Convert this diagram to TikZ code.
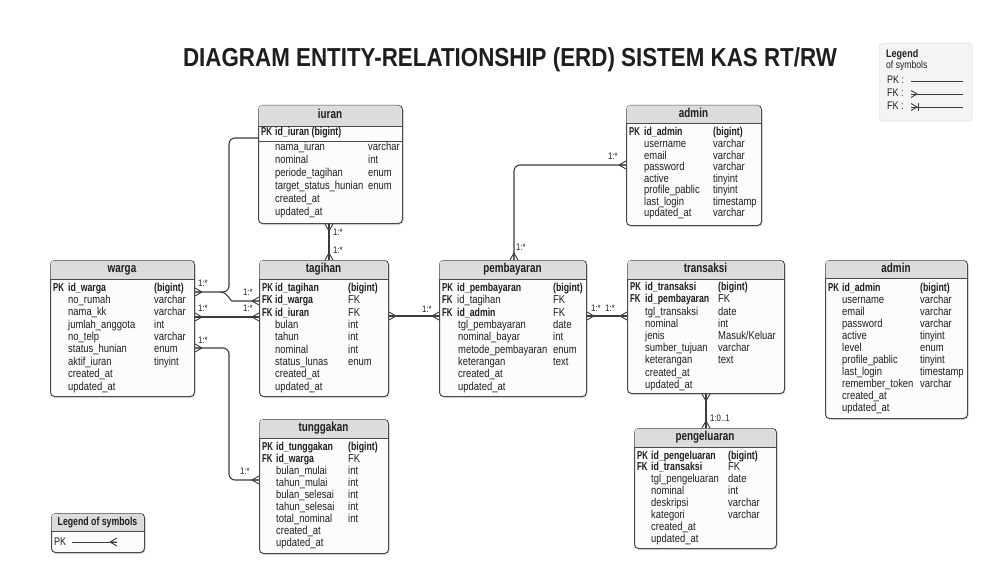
\documentclass[tikz,border=0pt]{standalone}
\usepackage{fontspec}
\setmainfont{Liberation Sans}
\newfontfamily\cf[FakeStretch=0.82]{Liberation Sans}
\newfontfamily\cfb[FakeStretch=0.76]{Liberation Sans}
\newfontfamily\cfk[FakeStretch=0.68]{Liberation Sans}
\newfontfamily\cft[FakeStretch=0.86]{Liberation Sans}
\usetikzlibrary{calc,shadows}
\definecolor{ebord}{HTML}{4A4A4A}
\definecolor{ehdr}{HTML}{DCDCDC}
\definecolor{ebody}{HTML}{FCFCFC}
\definecolor{etxt}{HTML}{1E1E1E}
\definecolor{elnk}{HTML}{3C3C3C}
\definecolor{lgfill}{HTML}{F4F4F4}
\definecolor{lgbord}{HTML}{DADADA}
\tikzset{
 ebox/.style={draw=ebord, line width=1pt, fill=ebody, rounded corners=4pt, inner sep=0pt,
   drop shadow={shadow xshift=1pt, shadow yshift=-1.5pt, opacity=0.25}},
 etitle/.style={font=\cfb\bfseries\fontsize{13}{15}\selectfont, text=etxt, inner sep=0pt, text height=9pt, text depth=2.5pt},
 ftxt/.style={anchor=west, inner sep=0pt, text=etxt, font=\cf\fontsize{11.5}{13}\selectfont, text height=8pt, text depth=2pt},
 ktxt/.style={ftxt, font=\cfb\bfseries\fontsize{11.5}{13}\selectfont},
 kkey/.style={ftxt, font=\cfk\bfseries\fontsize{11.5}{13}\selectfont},
 conn/.style={draw=elnk, line width=1.1pt, rounded corners=6pt},
 crow/.style={draw=elnk, line width=0.9pt},
 lbl/.style={inner sep=0pt, text=etxt, font=\cf\fontsize{9.5}{10}\selectfont},
}
\newcommand\entity[7]{%
 \node[ebox, minimum width=#4pt, minimum height=#5pt, anchor=north west] (#1) at (#2,#3) {};
 \fill[ehdr, rounded corners=3.5pt] (#2+0.5,#3+#7) -- (#2+0.5,#3+0.5) -- (#2+#4-0.5,#3+0.5) -- (#2+#4-0.5,#3+#7);
 \draw[ebord, line width=0.8pt] (#2,#3+#7) -- (#2+#4,#3+#7);
 \node[etitle] (#1-t) at (#2+#4/2,#3+#7/2) {#6};
}
\newcommand\krow[8]{%
 \node[kkey] (#1) at (#2,#5) {#6};
 \node[ktxt] (#1-f) at (#3,#5) {#7};
 \node[ftxt] (#1-t) at (#4,#5) {#8};}
\newcommand\rows[6]{%
 \foreach \fd/\ty [count=\i] in {#6} {
  \node[ftxt] (#1-f\i) at (#2, {#4+(\i-1)*#5}) {\fd};
  \node[ftxt] (#1-y\i) at (#3, {#4+(\i-1)*#5}) {\ty};
 }}
\newcommand\crowft[2]{%
 \begin{scope}[shift={(#1)}, rotate=#2]
  \draw[crow] (7,0) -- (0,4) (7,0) -- (0,-4) (7,0) -- (0,0);
 \end{scope}}
\newcommand\MK{Masuk/Keluar}
\newcommand\bigi{{\cfb\bfseries (bigint)}}
\begin{document}
\begin{tikzpicture}[x=1pt, y=-1pt]
\path[use as bounding box, fill=white] (0,0) rectangle (1002,583);

\node[font=\cft\bfseries\fontsize{26}{30}\selectfont, text=etxt] (title) at (510,60) {DIAGRAM ENTITY-RELATIONSHIP (ERD) SISTEM KAS RT/RW};

% legend top right
\node[draw=lgbord, fill=lgfill, rounded corners=4pt, minimum width=93pt, minimum height=78pt, anchor=north west, inner sep=0pt] (leg1) at (879,43) {};
\node[ftxt, font=\cf\bfseries\fontsize{11}{12}\selectfont] (leg1-a) at (886,55) {Legend};
\node[ftxt, font=\cf\fontsize{10.5}{12}\selectfont] (leg1-b) at (886,66) {of symbols};
\node[ftxt, font=\cf\fontsize{11}{12}\selectfont] (leg1-pk) at (887,81) {PK :};
\node[ftxt, font=\cf\fontsize{11}{12}\selectfont] (leg1-fk1) at (887,94) {FK :};
\node[ftxt, font=\cf\fontsize{11}{12}\selectfont] (leg1-fk2) at (887,107) {FK :};
\coordinate (lg1s) at (911,81); \coordinate (lg1e) at (963,81);
\coordinate (lg2s) at (911,94); \coordinate (lg2e) at (963,94);
\coordinate (lg3s) at (911,107); \coordinate (lg3e) at (963,107);
\draw[crow] (lg1s) -- (lg1e);
\draw[crow] (lg2s) -- (lg2e);
\draw[crow] (lg3s) -- (lg3e);
\begin{scope}[shift={(lg2s)}] \draw[crow] (0,-3.5) -- (6,0) -- (0,3.5); \end{scope}
\begin{scope}[shift={(lg3s)}] \draw[crow] (0,-3.5) -- (6,0) -- (0,3.5); \draw[crow] (7,-4) -- (7,4); \end{scope}

% iuran
\entity{iuran}{258}{105}{144}{118}{iuran}{21}
\node[kkey] (iuran-k1) at (261,133) {PK};
\node[ktxt] (iuran-k1-f) at (275,133) {id\_iuran (bigint)};
\draw[ebord, line width=0.6pt] (258,141) -- (402,141);
\rows{iuran}{275}{368}{148}{12.8}{nama\_iuran/varchar, nominal/int, periode\_tagihan/enum, target\_status\_hunian/enum, created\_at/{}, updated\_at/{}}

% admin top
\entity{admin1}{626}{105}{135}{120}{admin}{18}
\krow{adm1-k1}{629}{644}{713}{133}{PK}{id\_admin}{\bigi}
\rows{admin1}{644}{713}{144.5}{11.57}{username/varchar, email/varchar, password/varchar, active/tinyint, profile\_pablic/tinyint, last\_login/timestamp, updated\_at/varchar}

% warga
\entity{warga}{50}{260}{144}{136}{warga}{19}
\krow{warga-k1}{53}{68}{154}{288}{PK}{id\_warga}{\bigi}
\rows{warga}{68}{154}{300.4}{12.375}{no\_rumah/varchar, nama\_kk/varchar, jumlah\_anggota/int, no\_telp/varchar, status\_hunian/enum, aktif\_iuran/tinyint, created\_at/{}, updated\_at/{}}

% tagihan
\entity{tagihan}{259}{260}{129}{136}{tagihan}{19}
\krow{tag-k1}{262}{275}{348}{288}{PK}{id\_tagihan}{\bigi}
\krow{tag-k2}{262}{275}{348}{300.5}{FK}{id\_warga}{FK}
\krow{tag-k3}{262}{275}{348}{313}{FK}{id\_iuran}{FK}
\rows{tagihan}{275}{348}{325.3}{12.375}{bulan/int, tahun/int, nominal/int, status\_lunas/enum, created\_at/{}, updated\_at/{}}

% pembayaran
\entity{pembayaran}{439}{260}{147}{136}{pembayaran}{19}
\krow{pemb-k1}{442}{457}{553}{288}{PK}{id\_pembayaran}{\bigi}
\krow{pemb-k2}{442}{457}{553}{300.5}{FK}{\cf\mdseries id\_tagihan}{FK}
\krow{pemb-k3}{442}{457}{553}{313}{FK}{id\_admin}{FK}
\rows{pembayaran}{458}{553}{325.3}{12.375}{tgl\_pembayaran/date, nominal\_bayar/int, metode\_pembayaran/enum, keterangan/text, created\_at/{}, updated\_at/{}}

% transaksi
\entity{transaksi}{627}{260}{157}{133}{transaksi}{19}
\krow{trx-k1}{630}{645}{718}{287}{PK}{id\_transaksi}{\bigi}
\krow{trx-k2}{630}{645}{718}{299.5}{FK}{id\_pembayaran}{FK}
\rows{transaksi}{645}{718}{312}{12.2}{tgl\_transaksi/date, nominal/int, jenis/\MK, sumber\_tujuan/varchar, keterangan/text, created\_at/{}, updated\_at/{}}

% admin right
\entity{admin2}{825}{260}{142}{158}{admin}{18}
\krow{adm2-k1}{828}{842}{920}{288}{PK}{id\_admin}{\bigi}
\rows{admin2}{842}{920}{300}{12}{username/varchar, email/varchar, password/varchar, active/tinyint, level/enum, profile\_pablic/tinyint, last\_login/timestamp, remember\_token/varchar, created\_at/{}, updated\_at/{}}

% tunggakan
\entity{tunggakan}{259}{419}{129}{134}{tunggakan}{19}
\krow{tung-k1}{262}{276}{348}{447}{PK}{id\_tunggakan}{\bigi}
\krow{tung-k2}{262}{276}{348}{459}{FK}{id\_warga}{FK}
\rows{tunggakan}{276}{348}{471}{12}{bulan\_mulai/int, tahun\_mulai/int, bulan\_selesai/int, tahun\_selesai/int, total\_nominal/int, created\_at/{}, updated\_at/{}}

% pengeluaran
\entity{pengeluaran}{634}{428}{142}{120}{pengeluaran}{19}
\krow{peng-k1}{637}{651}{728}{456}{PK}{id\_pengeluaran}{\bigi}
\krow{peng-k2}{637}{651}{728}{467.5}{FK}{id\_transaksi}{FK}
\rows{pengeluaran}{651}{728}{479.5}{12}{tgl\_pengeluaran/date, nominal/int, deskripsi/varchar, kategori/varchar, created\_at/{}, updated\_at/{}}

% legend bottom left
\entity{leg2}{51}{513}{93}{39}{\fontsize{11.5}{13}\selectfont Legend of symbols}{18}
\node[ftxt, font=\cf\fontsize{11}{12}\selectfont] (leg2-pk) at (54,542) {PK};
\coordinate (lg4s) at (72,542); \coordinate (lg4e) at (117,542);
\draw[crow] (lg4s) -- (lg4e);
\crowft{lg4e}{180}

% connectors
\coordinate (wA) at ($(warga.north east)+(0,32)$);
\coordinate (iA) at ($(iuran.north west)+(0,33)$);
\coordinate (tA) at ($(tagihan.north west)+(0,41)$);
\coordinate (j1) at (229,292);
\coordinate (j1a) at (220,292);
\coordinate (j1b) at (238,301);
\draw[conn] (wA) -- (j1) -- (j1 |- iA) -- (iA);
\draw[conn] (j1a) .. controls +(8,0) and +(-8,0) .. (j1b) -- (tA);

\coordinate (wB) at ($(warga.north east)+(0,57)$);
\coordinate (tB) at ($(tagihan.north west)+(0,57)$);
\draw[conn] (wB) -- (tB);

\coordinate (wC) at ($(warga.north east)+(0,88)$);
\coordinate (gC) at ($(tunggakan.north west)+(0,61)$);
\draw[conn] (wC) -| (j1 |- gC) -- (gC);

\coordinate (iD) at ($(iuran.south west)+(71,0)$);
\coordinate (tD) at ($(tagihan.north west)+(70,0)$);
\draw[conn] (iD) -- (tD);

\coordinate (tE) at ($(tagihan.north east)+(0,56)$);
\coordinate (pE) at ($(pembayaran.north west)+(0,56)$);
\draw[conn] (tE) -- (pE);

\coordinate (pF) at ($(pembayaran.north west)+(75,0)$);
\coordinate (aF) at ($(admin1.north west)+(0,60)$);
\draw[conn] (pF) |- (aF);

\coordinate (pG) at ($(pembayaran.north east)+(0,56)$);
\coordinate (xG) at ($(transaksi.north west)+(0,56)$);
\draw[conn] (pG) -- (xG);

\coordinate (xH) at ($(transaksi.south west)+(79,0)$);
\coordinate (eH) at ($(pengeluaran.north west)+(72,0)$);
\draw[conn] (xH) -- (eH);

\crowft{wA}{0} \crowft{tA}{180}
\crowft{wB}{0} \crowft{tB}{180}
\crowft{wC}{0} \crowft{gC}{180}
\crowft{iD}{-90} \crowft{tD}{90}
\crowft{tE}{0} \crowft{pE}{180}
\crowft{pF}{90} \crowft{aF}{180}
\crowft{pG}{0} \crowft{xG}{180}
\crowft{xH}{-90} \crowft{eH}{90}

% labels
\node[lbl] (l1) at (203,283) {1:*};
\node[lbl] (l2) at (248,292) {1:*};
\node[lbl] (l3) at (203,308) {1:*};
\node[lbl] (l4) at (248,308) {1:*};
\node[lbl] (l5) at (203,340) {1:*};
\node[lbl] (l6) at (245,471) {1:*};
\node[lbl, anchor=west] (l7) at (333,232) {1:*};
\node[lbl, anchor=west] (l8) at (333,250) {1:*};
\node[lbl] (l9) at (427,309) {1:*};
\node[lbl] (l10) at (596,308) {1:*};
\node[lbl] (l11) at (610,308) {1:*};
\node[lbl] (l12) at (613,156) {1:*};
\node[lbl] (l13) at (521,247) {1:*};
\node[lbl, anchor=west] (l14) at (710,418) {1:0..1};
\end{tikzpicture}
\end{document}
